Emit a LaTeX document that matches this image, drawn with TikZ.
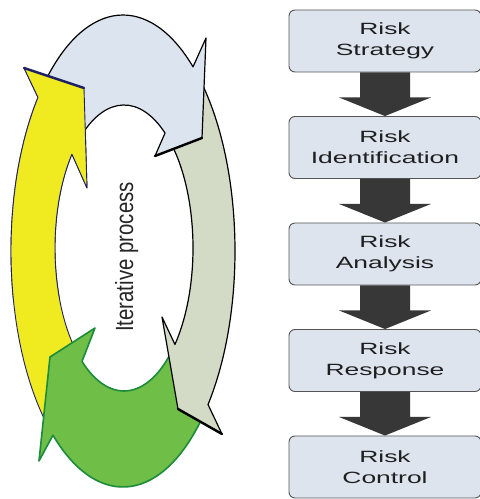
\documentclass[tikz,border=0pt]{standalone}
\usepackage{fontspec}
\usepackage{graphicx}
\setmainfont{Liberation Sans}
\usetikzlibrary{calc}
\definecolor{ylw}{RGB}{240,234,32}
\definecolor{ylwline}{RGB}{30,32,100}
\definecolor{blu}{RGB}{220,228,240}
\definecolor{gry}{RGB}{211,219,198}
\definecolor{grn}{RGB}{110,190,72}
\definecolor{grnline}{RGB}{28,140,58}
\definecolor{boxfill}{RGB}{221,228,238}
\definecolor{boxline}{RGB}{85,85,85}
\definecolor{arrowfill}{RGB}{55,55,55}
\newcommand{\wtxt}[1]{\scalebox{1.62}[1]{#1}}
\begin{document}
\begin{tikzpicture}[x=1pt,y=1pt,
  riskbox/.style={draw=boxline, line width=0.9pt, fill=boxfill, rounded corners=6pt,
    minimum width=192pt, minimum height=62pt, inner sep=0pt, align=center,
    font=\fontsize{16.3}{21}\selectfont, text=black!88},
  blockarrow/.style={fill=arrowfill},
  ringline/.style={line width=1.2pt, line join=round},
  yellowarrow/.style={ringline, fill=ylw, draw=ylwline, line width=0.9pt},
  bluearrow/.style={ringline, fill=blu, draw=black},
  grayarrow/.style={ringline, fill=gry, draw=black},
  greenarrow/.style={ringline, fill=grn, draw=grnline, line width=1.6pt}]
\useasboundingbox (0,0) rectangle (480,499);
\fill[white] (0,0) rectangle (480,499);
\coordinate (Oc) at (123,248);
\coordinate (Ic) at (124,251);

% yellow (left)
\path[yellowarrow] ($(Oc)+(227:112pt and 236pt)$) arc[start angle=227, end angle=139.4, x radius=112pt, y radius=236pt]
  -- (24,431) -- (84,411) -- (87,311) -- ($(Ic)+(139:69pt and 143pt)$)
  arc[start angle=139, end angle=227, x radius=69pt, y radius=143pt] -- cycle;
% green (bottom)
\path[greenarrow] ($(Oc)+(-43:112pt and 236pt)$) arc[start angle=-43, end angle=-128.7, x radius=112pt, y radius=236pt]
  -- (39,38) -- (50,142) -- (95,171) -- ($(Ic)+(-127.5:69pt and 143pt)$)
  arc[start angle=-127.5, end angle=-47.5, x radius=69pt, y radius=143pt] -- cycle;
% gray (right)
\path[grayarrow] ($(Oc)+(46:112pt and 236pt)$) arc[start angle=46, end angle=-40.6, x radius=112pt, y radius=236pt]
  -- (222,65) -- (178,90) -- (162,182) -- ($(Ic)+(-42.4:69pt and 143pt)$)
  arc[start angle=-42.4, end angle=47, x radius=69pt, y radius=143pt] -- cycle;
\draw[black, line width=2.4pt, line cap=round] (178,90) -- (222,65);
% blue (top)
\path[bluearrow] ($(Oc)+(134:112pt and 236pt)$) arc[start angle=134, end angle=51.3, x radius=112pt, y radius=236pt]
  -- (206,461) -- (202,361) -- (155,343) -- ($(Ic)+(53.5:69pt and 143pt)$)
  arc[start angle=53.5, end angle=128, x radius=69pt, y radius=143pt] -- cycle;
\draw[black, line width=2.4pt, line cap=round] (202,361) -- (155,343);
% yellow head again on top of the blue tail
\begin{scope}
  \clip (0,200) rectangle (260,499);
  \path[yellowarrow] ($(Oc)+(227:112pt and 236pt)$) arc[start angle=227, end angle=139.4, x radius=112pt, y radius=236pt]
    -- (24,431) -- (84,411) -- (87,311) -- ($(Ic)+(139:69pt and 143pt)$)
    arc[start angle=139, end angle=227, x radius=69pt, y radius=143pt] -- cycle;
  \draw[ylwline, line width=2.4pt, line cap=round] (24,431) -- (84,411);
\end{scope}

\node[rotate=90, anchor=base, font=\fontsize{20.4}{24}\selectfont, text=black!85] (lbl) at (133,242)
  {\scalebox{1}[1.22]{Iterative process}};

% process boxes
\node[riskbox] (b1) at (385,458) {\wtxt{Risk}\\\wtxt{Strategy}};
\node[riskbox] (b2) at (385,351.5) {\wtxt{Risk}\\\wtxt{Identification}};
\node[riskbox] (b3) at (385,245) {\wtxt{Risk}\\\wtxt{Analysis}};
\node[riskbox] (b4) at (385,138.5) {\wtxt{Risk}\\\wtxt{Response}};
\node[riskbox] (b5) at (385,32) {\wtxt{Risk}\\\wtxt{Control}};

\foreach \a/\b in {b1/b2,b2/b3,b3/b4,b4/b5}{
  \fill[blockarrow] ($(\a.south)+(-25pt,0pt)$) -- ($(\a.south)+(25pt,0pt)$) -- ($(\a.south)+(25pt,-25pt)$)
    -- ($(\a.south)+(46pt,-25pt)$) -- (\b.north) -- ($(\a.south)+(-46pt,-25pt)$)
    -- ($(\a.south)+(-25pt,-25pt)$) -- cycle;
}
\end{tikzpicture}
\end{document}
